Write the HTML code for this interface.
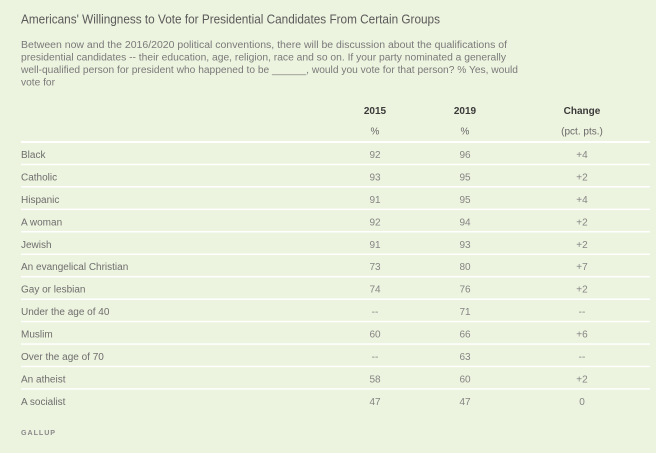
<!DOCTYPE html>
<html>
<head>
<meta charset="utf-8">
<style>
html,body{margin:0;padding:0;background:#ecf3de;}
svg{display:block;}
text{font-family:"Liberation Sans",sans-serif;}
</style>
</head>
<body>
<svg width="656" height="453" viewBox="0 0 656 453" xmlns="http://www.w3.org/2000/svg">
<rect x="0" y="0" width="656" height="453" fill="#ecf3de"/>
<text x="21" y="23.5" font-size="13" fill="#5a5a5a" textLength="419" lengthAdjust="spacingAndGlyphs">Americans' Willingness to Vote for Presidential Candidates From Certain Groups</text>
<g font-size="10" fill="#7a7a7a">
<text x="21" y="48" textLength="486" lengthAdjust="spacingAndGlyphs">Between now and the 2016/2020 political conventions, there will be discussion about the qualifications of</text>
<text x="21" y="60.5" textLength="485" lengthAdjust="spacingAndGlyphs">presidential candidates -- their education, age, religion, race and so on. If your party nominated a generally</text>
<text x="21" y="73" textLength="497" lengthAdjust="spacingAndGlyphs">well-qualified person for president who happened to be ______, would you vote for that person? % Yes, would</text>
<text x="21" y="85.5" textLength="34" lengthAdjust="spacingAndGlyphs">vote for</text>
</g>
<g font-size="10" font-weight="bold" fill="#3a3a3a" text-anchor="middle">
<text x="375" y="114">2015</text>
<text x="465" y="114">2019</text>
<text x="582" y="114">Change</text>
</g>
<g font-size="10" fill="#6a6a6a" text-anchor="middle">
<text x="375" y="134.5">%</text>
<text x="465" y="134.5">%</text>
<text x="582" y="134.5">(pct. pts.)</text>
</g>
<rect x="21" y="141" width="629" height="2" fill="#ffffff"/>
<g fill="#ffffff">
<rect x="21" y="163.7" width="629" height="1.5"/>
<rect x="21" y="186.1" width="629" height="1.5"/>
<rect x="21" y="208.6" width="629" height="1.5"/>
<rect x="21" y="231.0" width="629" height="1.5"/>
<rect x="21" y="253.5" width="629" height="1.5"/>
<rect x="21" y="275.9" width="629" height="1.5"/>
<rect x="21" y="298.4" width="629" height="1.5"/>
<rect x="21" y="320.8" width="629" height="1.5"/>
<rect x="21" y="343.3" width="629" height="1.5"/>
<rect x="21" y="365.7" width="629" height="1.5"/>
<rect x="21" y="388.2" width="629" height="1.5"/>
</g>
<g font-size="10" fill="#6e6e6e">
<text x="21" y="158">Black</text>
<text x="21" y="180.4">Catholic</text>
<text x="21" y="202.9">Hispanic</text>
<text x="21" y="225.3">A woman</text>
<text x="21" y="247.8">Jewish</text>
<text x="21" y="270.2">An evangelical Christian</text>
<text x="21" y="292.7">Gay or lesbian</text>
<text x="21" y="315.1">Under the age of 40</text>
<text x="21" y="337.6">Muslim</text>
<text x="21" y="360">Over the age of 70</text>
<text x="21" y="382.5">An atheist</text>
<text x="21" y="404.9">A socialist</text>
</g>
<g font-size="10" fill="#858585" text-anchor="middle">
<text x="375" y="158">92</text><text x="465" y="158">96</text><text x="582" y="158">+4</text>
<text x="375" y="180.4">93</text><text x="465" y="180.4">95</text><text x="582" y="180.4">+2</text>
<text x="375" y="202.9">91</text><text x="465" y="202.9">95</text><text x="582" y="202.9">+4</text>
<text x="375" y="225.3">92</text><text x="465" y="225.3">94</text><text x="582" y="225.3">+2</text>
<text x="375" y="247.8">91</text><text x="465" y="247.8">93</text><text x="582" y="247.8">+2</text>
<text x="375" y="270.2">73</text><text x="465" y="270.2">80</text><text x="582" y="270.2">+7</text>
<text x="375" y="292.7">74</text><text x="465" y="292.7">76</text><text x="582" y="292.7">+2</text>
<text x="375" y="315.1">--</text><text x="465" y="315.1">71</text><text x="582" y="315.1">--</text>
<text x="375" y="337.6">60</text><text x="465" y="337.6">66</text><text x="582" y="337.6">+6</text>
<text x="375" y="360">--</text><text x="465" y="360">63</text><text x="582" y="360">--</text>
<text x="375" y="382.5">58</text><text x="465" y="382.5">60</text><text x="582" y="382.5">+2</text>
<text x="375" y="404.9">47</text><text x="465" y="404.9">47</text><text x="582" y="404.9">0</text>
</g>
<text x="21" y="435" font-size="7.5" font-weight="bold" fill="#8a8a8a" letter-spacing="1" textLength="35" lengthAdjust="spacingAndGlyphs">GALLUP</text>
</svg>
</body>
</html>
